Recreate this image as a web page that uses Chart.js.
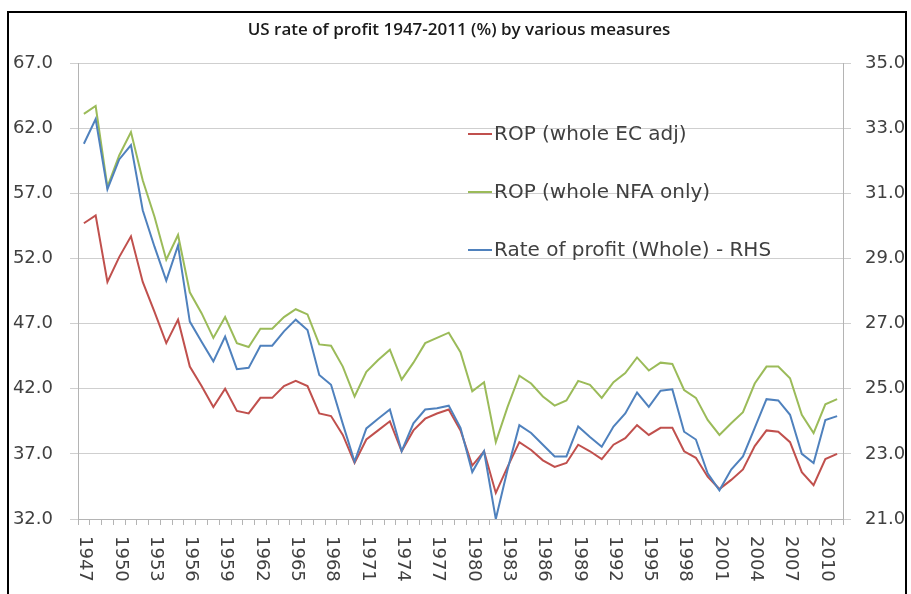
<!DOCTYPE html>
<html>
<head>
<meta charset="utf-8">
<title>US rate of profit 1947-2011</title>
<script src="https://cdn.jsdelivr.net/npm/chart.js"></script>
<style>
  body { margin: 0; background: #fff; }
  #wrap { position: relative; width: 911px; height: 594px; }
</style>
</head>
<body>
<div id="wrap"><canvas id="myChart" width="911" height="594"></canvas></div>
<script>
'use strict';

const years = ['1947','1948','1949','1950','1951','1952','1953','1954','1955','1956',
  '1957','1958','1959','1960','1961','1962','1963','1964','1965','1966',
  '1967','1968','1969','1970','1971','1972','1973','1974','1975','1976',
  '1977','1978','1979','1980','1981','1982','1983','1984','1985','1986',
  '1987','1988','1989','1990','1991','1992','1993','1994','1995','1996',
  '1997','1998','1999','2000','2001','2002','2003','2004','2005','2006',
  '2007','2008','2009','2010','2011'];

// labels shown under the x axis (every third year)
const xTickLabels = ['1947','1950','1953','1956','1959','1962','1965','1968','1971','1974',
  '1977','1980','1983','1986','1989','1992','1995','1998','2001','2004','2007','2010'];

const leftTicks = [32, 37, 42, 47, 52, 57, 62, 67];
const rightTicks = [21, 23, 25, 27, 29, 31, 33, 35];

// ROP (whole EC adj) - left axis
const ropEcAdj = [54.7, 55.3, 50.2, 52.1, 53.7, 50.2, 47.9, 45.5, 47.3, 43.7,
  42.2, 40.6, 42.0, 40.3, 40.1, 41.3, 41.3, 42.2, 42.6, 42.2,
  40.1, 39.9, 38.45, 36.3, 38.1, 38.8, 39.5, 37.2, 38.8, 39.7,
  40.1, 40.4, 38.8, 36.1, 37.2, 34.0, 36.0, 37.9, 37.3, 36.5,
  36.0, 36.3, 37.7, 37.2, 36.6, 37.7, 38.2, 39.2, 38.45, 39.0,
  39.0, 37.2, 36.7, 35.25, 34.3, 35.0, 35.8, 37.6, 38.8, 38.7,
  37.9, 35.6, 34.6, 36.6, 37.0];

// ROP (whole NFA only) - left axis
const ropNfaOnly = [63.1, 63.7, 57.5, 59.9, 61.7, 58.0, 55.2, 51.9, 53.8, 49.4,
  47.8, 45.9, 47.5, 45.5, 45.2, 46.6, 46.6, 47.5, 48.1, 47.7,
  45.4, 45.3, 43.7, 41.4, 43.3, 44.2, 45.0, 42.7, 44.0, 45.5,
  45.9, 46.3, 44.8, 41.8, 42.5, 37.9, 40.6, 43.0, 42.4, 41.4,
  40.7, 41.1, 42.6, 42.3, 41.3, 42.5, 43.2, 44.4, 43.4, 44.0,
  43.9, 41.9, 41.3, 39.6, 38.45, 39.35, 40.2, 42.4, 43.7, 43.7,
  42.8, 40.0, 38.6, 40.8, 41.2];

// Rate of profit (Whole) - right axis
const ropWhole = [32.52, 33.28, 31.12, 32.04, 32.48, 30.48, 29.36, 28.32, 29.40, 27.06,
  26.44, 25.84, 26.60, 25.60, 25.64, 26.32, 26.32, 26.76, 27.12, 26.80,
  25.42, 25.12, 23.92, 22.76, 23.78, 24.08, 24.36, 23.08, 23.94, 24.36,
  24.40, 24.48, 23.80, 22.44, 23.08, 21.00, 22.52, 23.88, 23.64, 23.28,
  22.92, 22.92, 23.84, 23.52, 23.22, 23.84, 24.24, 24.88, 24.44, 24.94,
  24.98, 23.68, 23.44, 22.40, 21.88, 22.52, 22.92, 23.80, 24.68, 24.64,
  24.20, 23.00, 22.72, 24.04, 24.16];

const seriesNames = ['ROP (whole EC adj)', 'ROP (whole NFA only)', 'Rate of profit (Whole) - RHS'];

const textColor = '#404040';
const gridColor = '#cfcfcf';
const axisColor = '#b4b4b4';
const labelFont = '"DejaVu Sans", sans-serif';

// title, rotated year labels, legend and the outer frame
const decorPlugin = {
  id: 'decor',
  beforeDraw(chart) {
    const ctx = chart.ctx;
    ctx.save();
    ctx.fillStyle = '#fff';
    ctx.fillRect(0, 0, chart.width, chart.height);
    ctx.restore();
  },
  afterDraw(chart) {
    const ctx = chart.ctx;
    const xScale = chart.scales.x;
    ctx.save();

    ctx.fillStyle = '#1a1a1a';
    ctx.font = '600 17px "Open Sans", sans-serif';
    ctx.textAlign = 'center';
    ctx.textBaseline = 'middle';
    ctx.fillText('US rate of profit 1947-2011 (%) by various measures', 459, 30);

    // year labels read top to bottom
    ctx.fillStyle = textColor;
    ctx.font = '18px ' + labelFont;
    ctx.textAlign = 'left';
    ctx.textBaseline = 'middle';
    xTickLabels.forEach(function (lab) {
      const x = xScale.getPixelForValue(years.indexOf(lab));
      ctx.save();
      ctx.translate(x + 1, chart.chartArea.bottom + 17);
      ctx.rotate(Math.PI / 2);
      ctx.fillText(lab, 0, 0);
      ctx.restore();
    });

    // legend inside the plot
    const lx = 468;
    const rows = [134, 192, 250];
    ctx.font = '20px ' + labelFont;
    chart.data.datasets.forEach(function (ds, i) {
      ctx.strokeStyle = ds.borderColor;
      ctx.lineWidth = 2;
      ctx.beginPath();
      ctx.moveTo(lx, rows[i]);
      ctx.lineTo(lx + 24, rows[i]);
      ctx.stroke();
      ctx.fillStyle = textColor;
      ctx.fillText(ds.label, lx + 26, rows[i] + 1);
    });

    ctx.strokeStyle = '#000';
    ctx.lineWidth = 2;
    ctx.strokeRect(8, 12, 898, 620);
    ctx.restore();
  }
};

const ctx = document.getElementById('myChart').getContext('2d');

const chart = new Chart(ctx, {
  type: 'line',
  data: {
    labels: years,
    datasets: [{
      label: seriesNames[0],
      data: ropEcAdj,
      borderColor: '#c0504d',
      yAxisID: 'y',
      order: 3
    }, {
      label: seriesNames[1],
      data: ropNfaOnly,
      borderColor: '#9bbb59',
      yAxisID: 'y',
      order: 2
    }, {
      label: seriesNames[2],
      data: ropWhole,
      borderColor: '#4f81bd',
      yAxisID: 'y2',
      order: 1
    }]
  },
  options: {
    responsive: false,
    animation: false,
    events: [],
    layout: { padding: { top: 63, left: 0, right: 0, bottom: 0 } },
    elements: {
      point: { radius: 0 },
      line: { borderWidth: 2, tension: 0 }
    },
    plugins: {
      legend: { display: false },
      title: { display: false },
      tooltip: { enabled: false }
    },
    scales: {
      x: {
        offset: true,
        grid: { display: true, offset: true, drawOnChartArea: false, drawTicks: true, tickLength: 6, color: axisColor },
        border: { display: true, color: axisColor },
        ticks: { display: false, autoSkip: false },
        afterFit: function (scale) { scale.height = 75; }
      },
      y: {
        position: 'left',
        min: 32,
        max: 67,
        afterBuildTicks: function (scale) { scale.ticks = leftTicks.map(v => ({ value: v })); },
        grid: { color: gridColor, tickLength: 8 },
        border: { display: true, color: axisColor },
        ticks: {
          padding: 17,
          color: textColor,
          font: { family: labelFont, size: 18 },
          callback: v => v.toFixed(1)
        },
        afterFit: function (scale) { scale.width = 78; }
      },
      y2: {
        position: 'right',
        min: 21,
        max: 35,
        afterBuildTicks: function (scale) { scale.ticks = rightTicks.map(v => ({ value: v })); },
        grid: { drawOnChartArea: false, color: gridColor, tickLength: 8 },
        border: { display: true, color: axisColor },
        ticks: {
          padding: 14,
          color: textColor,
          font: { family: labelFont, size: 18 },
          callback: v => v.toFixed(1)
        },
        afterFit: function (scale) { scale.width = 68; }
      }
    }
  },
  plugins: [decorPlugin]
});
</script>
</body>
</html>
